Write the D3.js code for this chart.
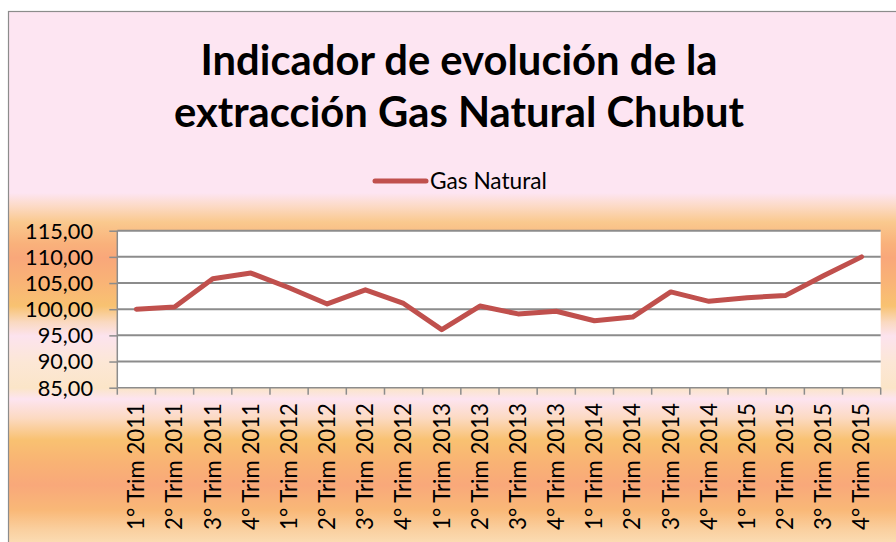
<!DOCTYPE html>
<html><head><meta charset="utf-8">
<script src="https://cdn.jsdelivr.net/npm/d3@7"></script>
<style>html,body{margin:0;padding:0;background:#fff;}svg{display:block;}</style>
</head><body>
<script>
const categories = ["1° Trim 2011","2° Trim 2011","3° Trim 2011","4° Trim 2011",
  "1° Trim 2012","2° Trim 2012","3° Trim 2012","4° Trim 2012",
  "1° Trim 2013","2° Trim 2013","3° Trim 2013","4° Trim 2013",
  "1° Trim 2014","2° Trim 2014","3° Trim 2014","4° Trim 2014",
  "1° Trim 2015","2° Trim 2015","3° Trim 2015","4° Trim 2015"];
const gasNatural = [100.0,100.4,105.8,106.9,104.1,101.0,103.7,101.1,96.1,100.6,
  99.1,99.6,97.8,98.5,103.3,101.5,102.2,102.6,106.4,110.0];
const yTicks = [85,90,95,100,105,110,115];
const titleLines = ["Indicador de evolución de la","extracción Gas Natural Chubut"];
const seriesName = "Gas Natural";

const W = 896, H = 542;
const svg = d3.select("body").append("svg").attr("width", W).attr("height", H);
const defs = svg.append("defs");

// background gradient
const bgTop = 11, bgBot = 542;
const bgStops = [[11,"#FDE5F2"],[193,"#FDE5F2"],[206,"#FCDAC6"],[222,"#FAC98E"],
  [244,"#F9B17B"],[258,"#F9A77A"],[283,"#F9B476"],[306,"#F8C271"],[322,"#FAD9C0"],
  [336,"#FCE3EE"],[362,"#FCE7D6"],[388,"#FBE5C8"],[399,"#FDE4F0"],[418,"#FCDAC2"],
  [440,"#F9C171"],[462,"#F9B374"],[485,"#F9A87A"],[510,"#F9B877"],[530,"#FAD0A0"],[542,"#FBDBB2"]];
const lg = defs.append("linearGradient").attr("id","bg").attr("gradientUnits","userSpaceOnUse")
  .attr("x1",0).attr("x2",0).attr("y1",bgTop).attr("y2",bgBot);
bgStops.forEach(s => lg.append("stop").attr("offset", (s[0]-bgTop)/(bgBot-bgTop)).attr("stop-color", s[1]));

svg.append("rect").attr("x",8.5).attr("y",11.5).attr("width",W).attr("height",H)
  .attr("fill","url(#bg)").attr("stroke","#8c8c8c").attr("stroke-width",1.2);

const m = {left:117.3, right:880.7, top:230.7, bottom:387.7};
const x = d3.scaleBand().domain(categories).range([m.left, m.right]);
const y = d3.scaleLinear().domain([85,115]).range([m.bottom, m.top]);

// plot area
svg.append("rect").attr("x",m.left).attr("y",m.top).attr("width",m.right-m.left)
  .attr("height",m.bottom-m.top).attr("fill","#fff");

// gridlines
svg.append("g").selectAll("line").data(yTicks.filter(t=>t>85)).join("line")
  .attr("x1",m.left).attr("x2",m.right).attr("y1",d=>y(d)).attr("y2",d=>y(d))
  .attr("stroke","#8c8c8c").attr("stroke-width",2);

const fontFam = "Lato, 'Open Sans', sans-serif";
function fitSize(text, weight, target) {
  const t = svg.append("text").attr("font-family",fontFam).attr("font-weight",weight)
    .attr("font-size",100).text(text);
  const w = t.node().getComputedTextLength(); t.remove();
  return 100*target/w;
}

// y axis
const yAxis = svg.append("g").attr("transform",`translate(${m.left},0)`)
  .call(d3.axisLeft(y).tickValues(yTicks).tickSize(8).tickPadding(16)
    .tickFormat(d => d3.format(".2f")(d).replace(".",",")));
yAxis.select(".domain").attr("stroke","#8c8c8c").attr("stroke-width",1.5).attr("d",`M0,${m.top}V${m.bottom}`);
yAxis.selectAll(".tick line").attr("stroke","#8c8c8c").attr("stroke-width",1.5);
const ySize = fitSize("115,00","normal",68);
yAxis.selectAll(".tick text").attr("font-family",fontFam).attr("font-size",ySize)
  .attr("fill","#000").attr("x",93-m.left).attr("dy","0.34em");

// x axis
const xAxis = svg.append("g").attr("transform",`translate(0,${m.bottom})`)
  .call(d3.axisBottom(x).tickSize(0).tickFormat(""));
xAxis.select(".domain").attr("stroke","#8c8c8c").attr("stroke-width",1.5).attr("d",`M${m.left},0H${m.right}`);
const bounds = categories.map(c => x(c)).concat([m.right]);
xAxis.selectAll("line.b").data(bounds).join("line").attr("class","b")
  .attr("x1",d=>d).attr("x2",d=>d).attr("y1",0).attr("y2",7)
  .attr("stroke","#8c8c8c").attr("stroke-width",1.5);
const xSize = fitSize(categories[0],"normal",127);
svg.append("g").selectAll("text").data(categories).join("text")
  .attr("transform", d => `translate(${x(d)+x.bandwidth()/2},403) rotate(-90)`)
  .attr("text-anchor","end").attr("dy","0.35em")
  .attr("font-family",fontFam).attr("font-size",xSize).attr("fill","#000").text(d=>d);

// line
const line = d3.line().x((d,i)=>x(categories[i])+x.bandwidth()/2).y(d=>y(d));
svg.append("path").datum(gasNatural).attr("d",line).attr("fill","none")
  .attr("stroke","#C0504D").attr("stroke-width",5).attr("stroke-linejoin","round").attr("stroke-linecap","round");

// title
const tSize1 = fitSize(titleLines[0],"bold",522);
const tSize2 = fitSize(titleLines[1],"bold",565);
const tSize = (tSize1+tSize2)/2;
svg.append("g").selectAll("text").data(titleLines).join("text")
  .attr("x",459).attr("y",(d,i)=>i===0?75:127).attr("text-anchor","middle")
  .attr("font-family",fontFam).attr("font-weight","bold").attr("font-size",tSize)
  .attr("fill","#000").text(d=>d);

// legend
svg.append("line").attr("x1",375).attr("x2",426).attr("y1",181).attr("y2",181)
  .attr("stroke","#C0504D").attr("stroke-width",5).attr("stroke-linecap","round");
const lSize = fitSize(seriesName,"normal",117);
svg.append("text").attr("x",430).attr("y",181).attr("dy","0.35em")
  .attr("font-family",fontFam).attr("font-size",lSize).attr("fill","#000").text(seriesName);
</script>
</body></html>
